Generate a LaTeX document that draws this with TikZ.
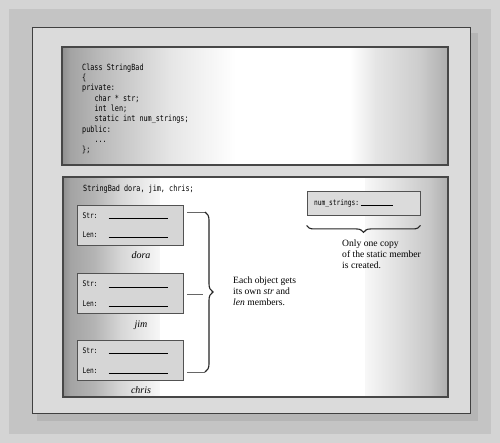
\documentclass[tikz,border=0pt]{standalone}
\usepackage{fontspec}
\setmainfont{Liberation Serif}
\newfontfamily\codefont[FakeStretch=0.8]{DejaVu Sans Mono}
\usetikzlibrary{positioning,decorations.pathreplacing}

\newcommand{\codeind}{\hspace*{12.3pt}}
\newcommand{\slot}[1]{\makebox[26pt][l]{#1:}\rule[-0.2pt]{59pt}{0.6pt}}

\begin{document}
\begin{tikzpicture}[x=1pt, y=-1pt,
  panel/.style={draw=black!72, line width=1.2pt},
  code/.style={inner sep=0pt, align=left, text=black, font=\codefont\fontsize{8.5}{10.3}\selectfont},
  objbox/.style={draw=black!68, line width=0.9pt, fill=black!16, minimum width=106pt, minimum height=40pt, text width=95pt, inner xsep=5.5pt, inner ysep=0pt, align=left, text=black, font=\codefont\fontsize{7.8}{9}\selectfont},
  countbox/.style={objbox, fill=black!14, minimum width=113pt, minimum height=24pt, text width=99pt, inner xsep=7pt},
  objname/.style={font=\itshape\fontsize{10}{12}\selectfont, inner sep=1pt},
  note/.style={align=left, inner sep=0pt, font=\fontsize{9.6}{10.8}\selectfont},
  tie/.style={draw=black!60, line width=0.6pt},
  bracket/.style={decorate, decoration={brace, amplitude=8pt}, line width=1.1pt, draw=black!85}
]
\useasboundingbox (0,0) rectangle (500,443);

% frame
\fill[black!17] (0,0) rectangle (500,443);
\fill[black!23] (9,9) rectangle (491,434);
\fill[black!29] (37,33) rectangle (478,421);
\filldraw[fill=black!14, draw=black!75, line width=1pt] (32,28) rectangle (470,413);

% panel gradients, strip by strip
\foreach \xa/\xb/\ca/\cb in {62/70/44/36, 70/100/36/27, 100/170/27/10, 170/235/10/0, 235/350/0/0, 350/375/0/10, 375/420/10/20, 420/448/20/32}
  \shade[left color=black!\ca, right color=black!\cb] (\xa,47) rectangle (\xb+0.5,165);
\foreach \xa/\xb/\ca/\cb in {63/70/44/36, 70/95/36/29, 95/120/29/16, 120/160/16/3, 160/365/0/0, 365/400/3/13, 400/430/13/22, 430/448/22/32}
  \shade[left color=black!\ca, right color=black!\cb] (\xa,177) rectangle (\xb+0.5,397);
\draw[panel] (62,47) rectangle (448,165);
\draw[panel] (63,177) rectangle (448,397);

% class declaration
\node[code, anchor=north west] (decl) at (82,63.5) {Class StringBad\\\{\\private:\\\codeind char * str;\\\codeind int len;\\\codeind static int num\_strings;\\public:\\\codeind ...\\\};};

% objects
\node[code, anchor=base west] (vars) at (83,192) {StringBad dora, jim, chris;};
\node[objbox] (dora) at (130,225) {\slot{Str}\\[10.4pt]\slot{Len}};
\node[objbox, below=28pt of dora] (jim) {\slot{Str}\\[10.4pt]\slot{Len}};
\node[objbox, below=26pt of jim] (chris) {\slot{Str}\\[10.4pt]\slot{Len}};
\node[objname, below=5pt of dora, xshift=11pt] (doraname) {dora};
\node[objname, below=5pt of jim, xshift=11pt] (jimname) {jim};
\node[objname, below=4pt of chris, xshift=11pt] (chrisname) {chris};

\coordinate (btop) at (205,212);
\coordinate (bbot) at (205,372);
\draw[tie, shorten <=4pt] (dora.east |- btop) -- (btop);
\draw[tie, shorten <=4pt, shorten >=2pt] (jim.east) -- (jim.east -| btop);
\draw[tie, shorten <=4pt] (chris.east |- bbot) -- (bbot);
\draw[bracket] (btop) -- (bbot);
\node[note, anchor=west] (each) at (233,291) {Each object gets\\its own \textit{str} and\\\textit{len} members.};

% static member
\node[countbox] (count) at (363.5,203) {num\_strings:\hspace{1.5pt}\rule[-0.2pt]{32pt}{0.6pt}};
\draw[bracket, decoration={brace, amplitude=7pt}] ([yshift=-10pt]count.south east) -- ([yshift=-10pt]count.south west);
\node[note, anchor=north west] (once) at (342,240) {Only one copy\\of the static member\\is created.};
\end{tikzpicture}
\end{document}
